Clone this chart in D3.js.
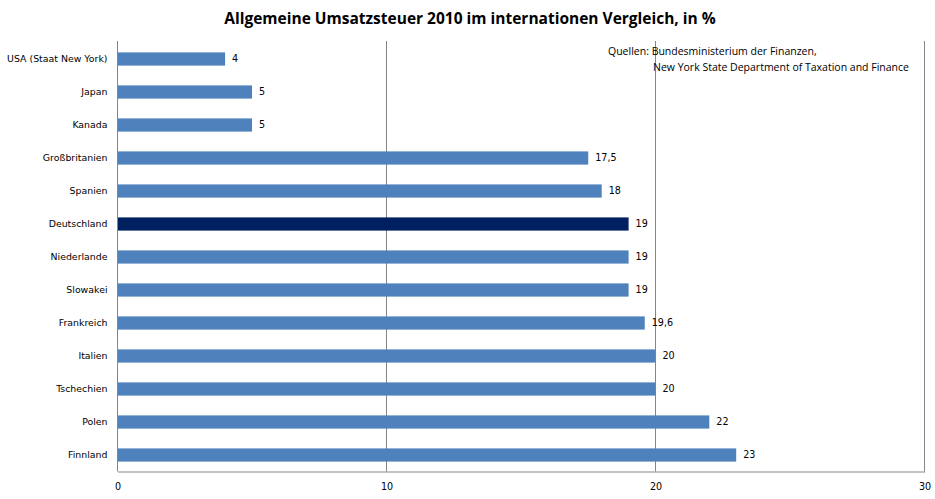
<!DOCTYPE html>
<html>
<head>
<meta charset="utf-8">
<script src="https://cdn.jsdelivr.net/npm/d3@7"></script>
<style>
body { margin: 0; background: #fff; }
</style>
</head>
<body>
<svg></svg>
<script>
let width = 935, height = 499;

let countries = ["USA (Staat New York)", "Japan", "Kanada", "Großbritanien", "Spanien",
  "Deutschland", "Niederlande", "Slowakei", "Frankreich", "Italien", "Tschechien", "Polen", "Finnland"];
let rates = [4, 5, 5, 17.5, 18, 19, 19, 19, 19.6, 20, 20, 22, 23];
let rateLabels = ["4", "5", "5", "17,5", "18", "19", "19", "19", "19,6", "20", "20", "22", "23"];
let ticks = [0, 10, 20, 30];
let highlight = "Deutschland";

let data = countries.map((c, i) => ({ name: c, value: rates[i], label: rateLabels[i] }));

let svg = d3.select("svg")
  .attr("width", width)
  .attr("height", height);

let x = d3.scaleLinear().domain([0, 30]).range([117.5, 924.5]);
let y = d3.scaleBand().domain(countries).range([42.5, 471.5]).paddingInner(0.6).paddingOuter(0.3);

// title
svg.append("text")
  .attr("x", 470).attr("y", 24)
  .attr("text-anchor", "middle")
  .style("font-family", "'Open Sans', sans-serif")
  .style("font-weight", "bold")
  .style("font-size", "15.5px")
  .text("Allgemeine Umsatzsteuer 2010 im internationen Vergleich, in %");

// grid lines
svg.append("g")
  .selectAll("line")
  .data(ticks.slice(1))
  .enter()
  .append("line")
  .attr("x1", d => x(d)).attr("x2", d => x(d))
  .attr("y1", 41).attr("y2", 471.5)
  .attr("stroke", "#868686");

// bars
svg.append("g")
  .selectAll("rect")
  .data(data)
  .enter()
  .append("rect")
  .attr("x", x(0))
  .attr("y", d => y(d.name))
  .attr("width", d => x(d.value) - x(0))
  .attr("height", y.bandwidth())
  .attr("fill", d => d.name === highlight ? "#002060" : "#4f81bd");

// value labels
svg.append("g")
  .selectAll("text")
  .data(data)
  .enter()
  .append("text")
  .attr("x", d => x(d.value) + 7)
  .attr("y", d => y(d.name) + y.bandwidth() / 2)
  .attr("dy", "0.35em")
  .style("font-family", "'DejaVu Sans', sans-serif")
  .style("font-size", "9.6px")
  .text(d => d.label);

// y axis
let yAxis = svg.append("g")
  .attr("transform", "translate(" + x(0) + ",0)")
  .call(d3.axisLeft(y).tickSize(0).tickPadding(10));
yAxis.select(".domain").attr("stroke", "#868686").attr("d", "M0,41V471.5");
yAxis.selectAll("text")
  .style("font-family", "'DejaVu Sans', sans-serif")
  .style("font-size", "9.4px")
  .attr("fill", "#000");

// x axis
let xAxis = svg.append("g")
  .attr("transform", "translate(0,471.5)")
  .call(d3.axisBottom(x).tickValues(ticks).tickSize(0).tickPadding(12));
xAxis.select(".domain").attr("stroke", "#868686");
xAxis.selectAll("text")
  .style("font-family", "'DejaVu Sans', sans-serif")
  .style("font-size", "9.6px")
  .attr("fill", "#000");

// source note
let note = svg.append("text")
  .style("font-family", "'Open Sans', sans-serif")
  .style("font-size", "10.5px");
note.append("tspan").attr("x", 608).attr("y", 55).text("Quellen: Bundesministerium der Finanzen,");
note.append("tspan").attr("x", 653).attr("y", 71).text("New York State Department of Taxation and Finance");
</script>
</body>
</html>
